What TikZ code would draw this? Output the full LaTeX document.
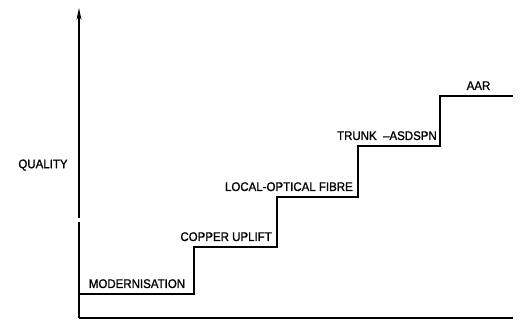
\documentclass[tikz,border=0pt]{standalone}
\usepackage{fontspec}
\setmainfont{Liberation Sans}[FakeBold=1.2, FakeStretch=0.92]
\usetikzlibrary{positioning, calc, arrows.meta}

\begin{document}
\begin{tikzpicture}[x=1pt, y=-1pt, >={Stealth[length=12pt, width=5pt]},
    axis/.style={line width=1.2pt},
    stair/.style={line width=1.4pt},
    stagelabel/.style={font=\fontsize{12.5}{14}\selectfont, inner sep=0pt}]
    \useasboundingbox (0,0) rectangle (520,320);

    % Axes
    \coordinate (origin) at (79,318);
    \coordinate (gaplow) at (79,222);
    \coordinate (gaphigh) at (79,218);
    \coordinate (ytop) at (79,8);
    \coordinate (xend) at (513,318);
    \draw[axis] (origin) -- (gaplow);
    \draw[->, axis] (gaphigh) -- (ytop);
    \draw[axis] (origin) -- (xend);
    \node[stagelabel] (quality) at (43,165) {QUALITY};

    % Steps
    \coordinate (s0) at (80,294);
    \coordinate (s1) at (194,294);
    \coordinate (s2) at (194,247);
    \coordinate (s3) at (277,247);
    \coordinate (s4) at (277,197);
    \coordinate (s5) at (358,197);
    \coordinate (s6) at (358,146);
    \coordinate (s7) at (440,146);
    \coordinate (s8) at (440,96);
    \coordinate (s9) at (513,96);
    \draw[stair] (s0) -- (s1) -- (s2) -- (s3) -- (s4) -- (s5) -- (s6) -- (s7) -- (s8) -- (s9);

    % Stage labels
    \node[stagelabel, anchor=base] (modern) at ($(s0)!0.5!(s1)+(0,-6)$) {MODERNISATION};
    \node[stagelabel, anchor=base east] (copper) at ($(s3)+(-5,-6)$) {COPPER UPLIFT};
    \node[stagelabel, anchor=base east] (local) at ($(s5)+(-5,-6)$) {LOCAL-OPTICAL FIBRE};
    \node[stagelabel, anchor=base east] (trunk) at ($(s7)+(-3,-6)$) {TRUNK \ --ASDSPN};
    \node[stagelabel, anchor=base] (aar) at ($(s8)!0.5!(s9)+(2,-6)$) {AAR};
\end{tikzpicture}
\end{document}
